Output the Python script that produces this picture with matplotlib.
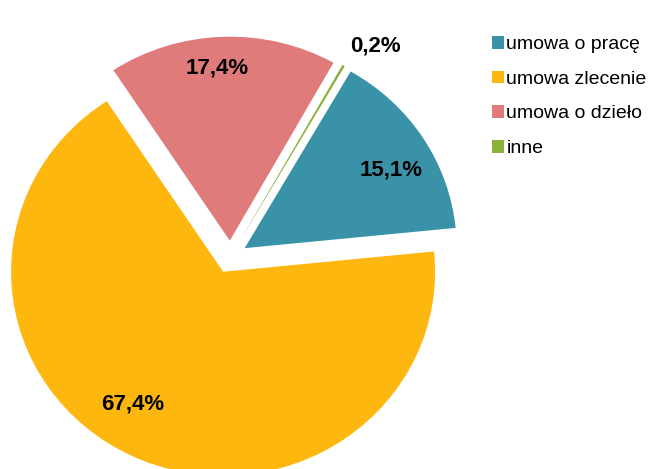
import numpy as np
import matplotlib
matplotlib.use('Agg')
import matplotlib.pyplot as plt
from matplotlib.patches import Patch

plt.rcParams['font.family'] = ['Liberation Sans', 'DejaVu Sans']

# dane
kategorie = ['umowa o pracę', 'umowa zlecenie', 'umowa o dzieło', 'inne']
udzialy = [15.1, 67.4, 17.4, 0.2]
etykiety = ['15,1%', '67,4%', '17,4%', '0,2%']
kolory = ['#3A92A8', '#FDB70E', '#E07B7C', '#8CB13B']

# polozenie etykiet: (odleglosc od srodka wycinka, przesuniecie kata w stopniach)
poz_etykiet = [(0.79, -3.8), (0.775, -7.8), (0.85, 1.9), (1.16, -4.1)]
wysuniecie = 0.08
start = 60  # pierwszy wycinek zaczyna sie 30 st. za godz. 12

fig = plt.figure(figsize=(6.5, 4.69), dpi=100)
ax = fig.add_axes([0, 0, 1, 1])

wedges, _ = ax.pie(udzialy, colors=kolory, startangle=start, counterclock=False,
                   explode=[wysuniecie] * len(udzialy), radius=1.0,
                   wedgeprops=dict(linewidth=0))

# piksele -> dane: srodek (230.4, 257), promien 212 x 204 px
sx, sy = 212.0, 204.0
cx, cy = 230.4, 257.0
ax.set_aspect('auto')
ax.set_xlim((0 - cx) / sx, (650 - cx) / sx)
ax.set_ylim((cy - 469) / sy, (cy - 0) / sy)
ax.axis('off')

for w, lab, (r, dkat) in zip(wedges, etykiety, poz_etykiet):
    kat = np.deg2rad((w.theta1 + w.theta2) / 2 + dkat)
    x0, y0 = w.center
    ax.text(x0 + r * np.cos(kat), y0 + r * np.sin(kat), lab,
            ha='center', va='center', fontsize=16, fontweight='bold', color='black')

uchwyty = [Patch(facecolor=k, edgecolor='none') for k in kolory]
fig.legend(uchwyty, kategorie, loc='upper left', bbox_to_anchor=(492 / 650, 1 - 36 / 469),
           frameon=False, fontsize=14, handlelength=0.62, handleheight=0.62,
           handletextpad=0.12, labelspacing=0.9, borderpad=0, borderaxespad=0)

fig.savefig('out.png', dpi=100)
